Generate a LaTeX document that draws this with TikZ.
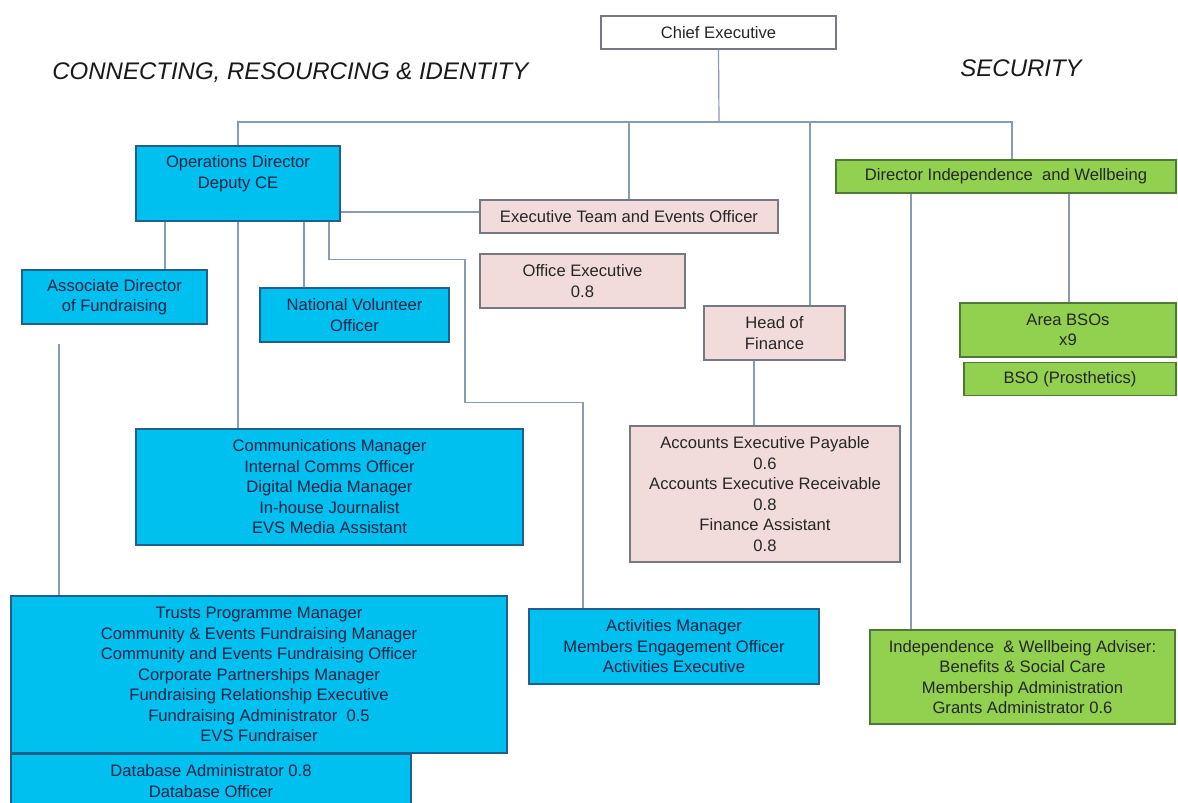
\documentclass[tikz,border=0pt]{standalone}
\usepackage{fontspec}
\setmainfont{Liberation Sans}
\usetikzlibrary{positioning}
\definecolor{orgblue}{RGB}{0,192,240}
\definecolor{orgblueline}{RGB}{35,95,140}
\definecolor{orgbluetext}{RGB}{20,35,70}
\definecolor{orgpink}{RGB}{242,220,219}
\definecolor{orgpinkline}{RGB}{120,120,130}
\definecolor{orggreen}{RGB}{146,208,80}
\definecolor{orggreenline}{RGB}{80,120,55}
\definecolor{orglink}{RGB}{135,155,180}

\begin{document}
\begin{tikzpicture}[x=0.5pt,y=-0.5pt,
  box/.style={draw,line width=0.6pt,align=center,inner sep=0pt,font=\fontsize{8.3}{10.25}\selectfont},
  bluebox/.style={box,fill=orgblue,draw=orgblueline,text=orgbluetext},
  pinkbox/.style={box,fill=orgpink,draw=orgpinkline,text=black!85},
  greenbox/.style={box,fill=orggreen,draw=orggreenline,text=black!85},
  whitebox/.style={box,fill=white,draw=orgpinkline,text=black!85},
  link/.style={draw=orglink,line width=0.6pt},
  heading/.style={font=\itshape\fontsize{12}{14}\selectfont,anchor=base west,inner sep=0pt,text=black!90}]
\fill[white] (0,0) rectangle (1178,803);
\clip (0,0) rectangle (1178,803);
% Headings
\node[heading] (crihead) at (52,79) {CONNECTING, RESOURCING \& IDENTITY};
\node[heading] (sechead) at (960,76) {SECURITY};
% Top level
\node[whitebox,minimum width=117.5pt,minimum height=16.5pt] (ce) at (718.5,32.5) {Chief Executive};
\node[bluebox,minimum width=102pt,minimum height=37.5pt] (ops) at (238,183.5) {};
\node[align=center,text=orgbluetext,font=\fontsize{8.3}{10.25}\selectfont] (opstext) at (238,173.5) {Operations Director\\Deputy CE};
\node[pinkbox,minimum width=149pt,minimum height=16.5pt] (exec) at (629,216.5) {Executive Team and Events Officer};
\node[greenbox,minimum width=170pt,minimum height=16.5pt] (dir) at (1006,176.5) {Director Independence\ \ and Wellbeing};
% Operations side
\node[bluebox,minimum width=92.5pt,minimum height=27pt] (assoc) at (114.5,297) {Associate Director\\of Fundraising};
\node[bluebox,minimum width=94.5pt,minimum height=27pt] (nvo) at (354.5,315) {National Volunteer\\Officer};
\node[pinkbox,minimum width=102.5pt,minimum height=27pt] (offexec) at (582.5,281) {Office Executive\\0.8};
\node[bluebox,minimum width=193.5pt,minimum height=58pt] (comms) at (329.5,487) {Communications Manager\\Internal Comms Officer\\Digital Media Manager\\In-house Journalist\\EVS Media Assistant};
\node[bluebox,minimum width=248pt,minimum height=78.5pt] (fund) at (259,674.5) {Trusts Programme Manager\\Community \& Events Fundraising Manager\\Community and Events Fundraising Officer\\Corporate Partnerships Manager\\Fundraising Relationship Executive\\Fundraising Administrator\ \ 0.5\\EVS Fundraiser};
\node[bluebox,anchor=north west,minimum width=200pt,minimum height=27pt] (db) at (fund.south west) {Database Administrator 0.8\\Database Officer};
\node[bluebox,minimum width=145pt,minimum height=37.5pt] (act) at (674,646.5) {Activities Manager\\Members Engagement Officer\\Activities Executive};
% Finance
\node[pinkbox,minimum width=70.5pt,minimum height=27pt] (hof) at (774.5,333) {Head of\\Finance};
\node[pinkbox,minimum width=135pt,minimum height=68pt] (acc) at (765,494) {Accounts Executive Payable\\0.6\\Accounts Executive Receivable\\0.8\\Finance Assistant\\0.8};
% Security side
\node[greenbox,minimum width=108pt,minimum height=27pt] (area) at (1068,330) {Area BSOs\\x9};
\node[greenbox,below=2pt of area.south east,anchor=north east,minimum width=106pt,minimum height=16.5pt] (bso) {BSO (Prosthetics)};
\node[greenbox,minimum width=152.5pt,minimum height=47pt] (iwa) at (1022.5,677) {Independence\ \ \& Wellbeing Adviser:\\Benefits \& Social Care\\Membership Administration\\Grants Administrator 0.6};
% Connectors
\coordinate (bus) at (719,122);
\draw[link] (ce.south) -- (bus);
\draw[link] (ops.north) |- (bus) -| ([xshift=3pt]dir.north);
\draw[link] (exec.north) -- (exec.north |- bus);
\draw[link] ([xshift=17.75pt]hof.north) -- ([xshift=17.75pt]hof.north |- bus);
\draw[link] ([yshift=2.25pt]exec.west) -- ([yshift=2.25pt]exec.west -| ops.east);
\draw[link] ([xshift=-36.5pt]ops.south) -- ([xshift=-36.5pt]ops.south |- assoc.north);
\draw[link] (ops.south) -- (ops.south |- comms.north);
\draw[link] ([xshift=33pt]ops.south) -- ([xshift=33pt]ops.south |- nvo.north);
\draw[link] ([xshift=45.5pt]ops.south) -- ++(0,38) -| ++(136,143) -| ([xshift=-45.5pt]act.north);
\draw[link] ([xshift=-27.75pt,yshift=-9.5pt]assoc.south) -- ([xshift=-27.75pt]assoc.south |- fund.north);
\draw[link] ([xshift=-10.25pt]hof.south) -- ([xshift=-10.25pt]hof.south |- acc.north);
\draw[link] ([xshift=-47.5pt]dir.south) -- ([xshift=-47.5pt]dir.south |- iwa.north);
\draw[link] ([xshift=31.5pt]dir.south) -- ([xshift=31.5pt]dir.south |- area.north);
\end{tikzpicture}
\end{document}
